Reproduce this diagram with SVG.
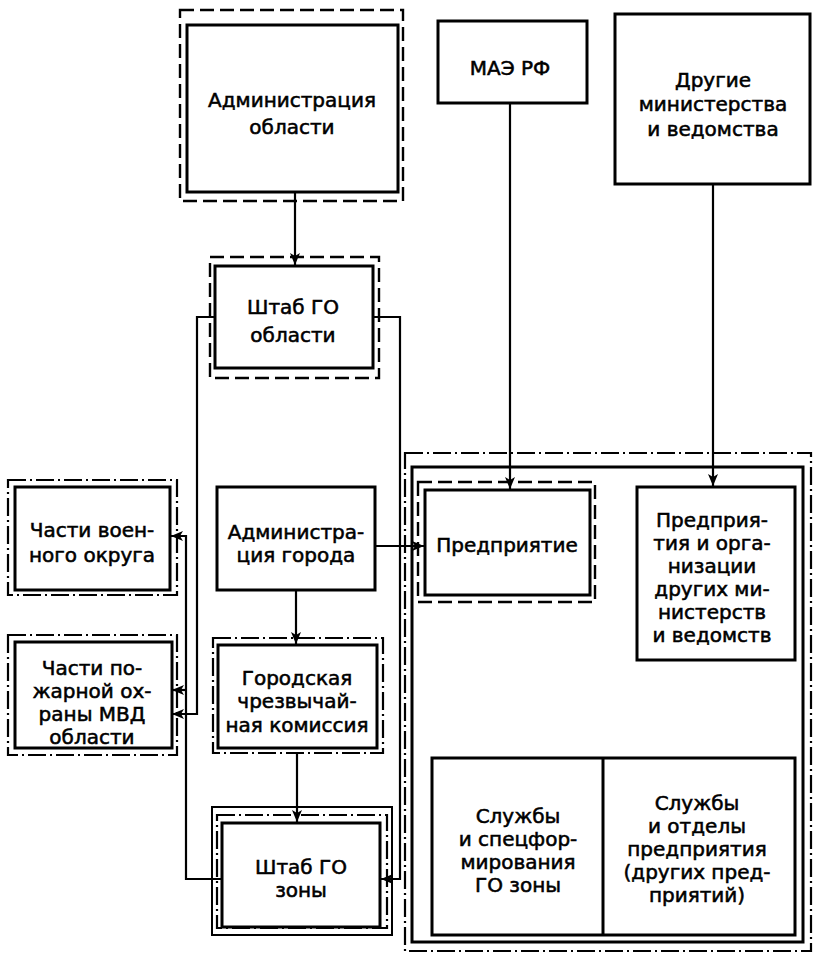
<svg xmlns="http://www.w3.org/2000/svg" width="817" height="955" viewBox="0 0 817 955">
<style>
.bg{fill:#fff}
.s{fill:none;stroke:#000;stroke-width:3}
.d{fill:none;stroke:#000;stroke-width:2.4;stroke-dasharray:14 6}
.dd{fill:none;stroke:#000;stroke-width:2.2;stroke-dasharray:18 4 2 4}
.c{fill:none;stroke:#000;stroke-width:2.2}
text{font-family:"DejaVu Sans","Liberation Sans",sans-serif;font-size:20px;fill:#000;stroke:#000;stroke-width:0.55;text-anchor:middle}
</style>
<defs>
<marker id="ar" markerUnits="userSpaceOnUse" markerWidth="13" markerHeight="10" refX="12" refY="5" orient="auto">
<path d="M0,0 L12,5 L0,10 L3,5 Z" fill="#000"/>
</marker>
</defs>
<rect class="bg" x="0" y="0" width="817" height="955"/>

<g id="connectors">
<path class="c" d="M295,192 V265" marker-end="url(#ar)"/>
<path class="c" d="M215,317 H197 V714 H172" marker-end="url(#ar)"/>
<path class="c" d="M373,317 H400 V879 H381" marker-end="url(#ar)"/>
<path class="c" d="M222,879 H186 V536 H171" marker-end="url(#ar)"/>
<path class="c" d="M186,690 H172" marker-end="url(#ar)"/>
<path class="c" d="M510,103 V489" marker-end="url(#ar)"/>
<path class="c" d="M713,184 V486" marker-end="url(#ar)"/>
<path class="c" d="M375,546 H424" marker-end="url(#ar)"/>
<path class="c" d="M296,590 V644" marker-end="url(#ar)"/>
<path class="c" d="M297,753 V822" marker-end="url(#ar)"/>
</g>

<g id="adm-oblasti">
<rect class="d" x="180" y="10" width="223" height="191"/>
<rect class="s" x="187" y="25" width="211" height="167"/>
<text x="292" y="107">Администрация</text>
<text x="292" y="134">области</text>
</g>

<g id="shtab-go-oblasti">
<rect class="d" x="210" y="257" width="169" height="121"/>
<rect class="s" x="215" y="266" width="158" height="102"/>
<text x="293" y="314">Штаб ГО</text>
<text x="293" y="342">области</text>
</g>

<g id="mae-rf">
<rect class="s" x="438" y="21" width="149" height="82"/>
<text x="510" y="75">МАЭ РФ</text>
</g>

<g id="drugie-ministerstva">
<rect class="s" x="615" y="14" width="195" height="170"/>
<text x="713" y="87">Другие</text>
<text x="713" y="111">министерства</text>
<text x="713" y="136">и ведомства</text>
</g>

<g id="chasti-voennogo-okruga">
<rect class="dd" x="8" y="480" width="169" height="115"/>
<rect class="s" x="15" y="487" width="155" height="103"/>
<text x="92" y="537">Части воен-</text>
<text x="92" y="562">ного округа</text>
</g>

<g id="chasti-pozharnoy-okhrany">
<rect class="dd" x="8" y="635" width="169" height="120"/>
<rect class="s" x="15" y="642" width="157" height="106"/>
<text x="92" y="675">Части по-</text>
<text x="92" y="698">жарной ох-</text>
<text x="92" y="721">раны МВД</text>
<text x="92" y="744">области</text>
</g>

<g id="adm-goroda">
<rect class="s" x="217" y="487" width="158" height="103"/>
<text x="296" y="539">Администра-</text>
<text x="296" y="562">ция города</text>
</g>

<g id="gorodskaya-komissiya">
<rect class="dd" x="213" y="638" width="170" height="115"/>
<rect class="s" x="218" y="645" width="159" height="103"/>
<text x="297" y="685">Городская</text>
<text x="297" y="708">чрезвычай-</text>
<text x="297" y="732">ная комиссия</text>
</g>

<g id="shtab-go-zony">
<rect class="s" x="212" y="807" width="180" height="128" style="stroke-width:2"/>
<rect class="dd" x="217" y="815" width="170" height="113"/>
<rect class="s" x="222" y="823" width="158" height="104"/>
<text x="301" y="874">Штаб ГО</text>
<text x="301" y="897">зоны</text>
</g>

<g id="zone-enterprise">
<rect class="dd" x="405" y="453" width="406" height="498"/>
<rect class="s" x="412" y="467" width="391" height="475"/>
</g>

<g id="predpriyatie">
<rect class="d" x="418" y="482" width="177" height="120"/>
<rect class="s" x="425" y="490" width="165" height="105"/>
<text x="507" y="552">Предприятие</text>
</g>

<g id="predpriyatiya-drugikh">
<rect class="s" x="637" y="487" width="158" height="173"/>
<text x="712" y="527">Предприя-</text>
<text x="712" y="550">тия и орга-</text>
<text x="712" y="573">низации</text>
<text x="712" y="596">других ми-</text>
<text x="712" y="619">нистерств</text>
<text x="712" y="642">и ведомств</text>
</g>

<g id="sluzhby">
<rect class="s" x="432" y="758" width="363" height="177"/>
<line class="s" x1="603" y1="758" x2="603" y2="935"/>
<text x="518" y="823">Службы</text>
<text x="518" y="846">и спецфор-</text>
<text x="518" y="869">мирования</text>
<text x="518" y="892">ГО зоны</text>
<text x="697" y="810">Службы</text>
<text x="697" y="833">и отделы</text>
<text x="697" y="856">предприятия</text>
<text x="697" y="879">(других пред-</text>
<text x="697" y="902">приятий)</text>
</g>
</svg>
